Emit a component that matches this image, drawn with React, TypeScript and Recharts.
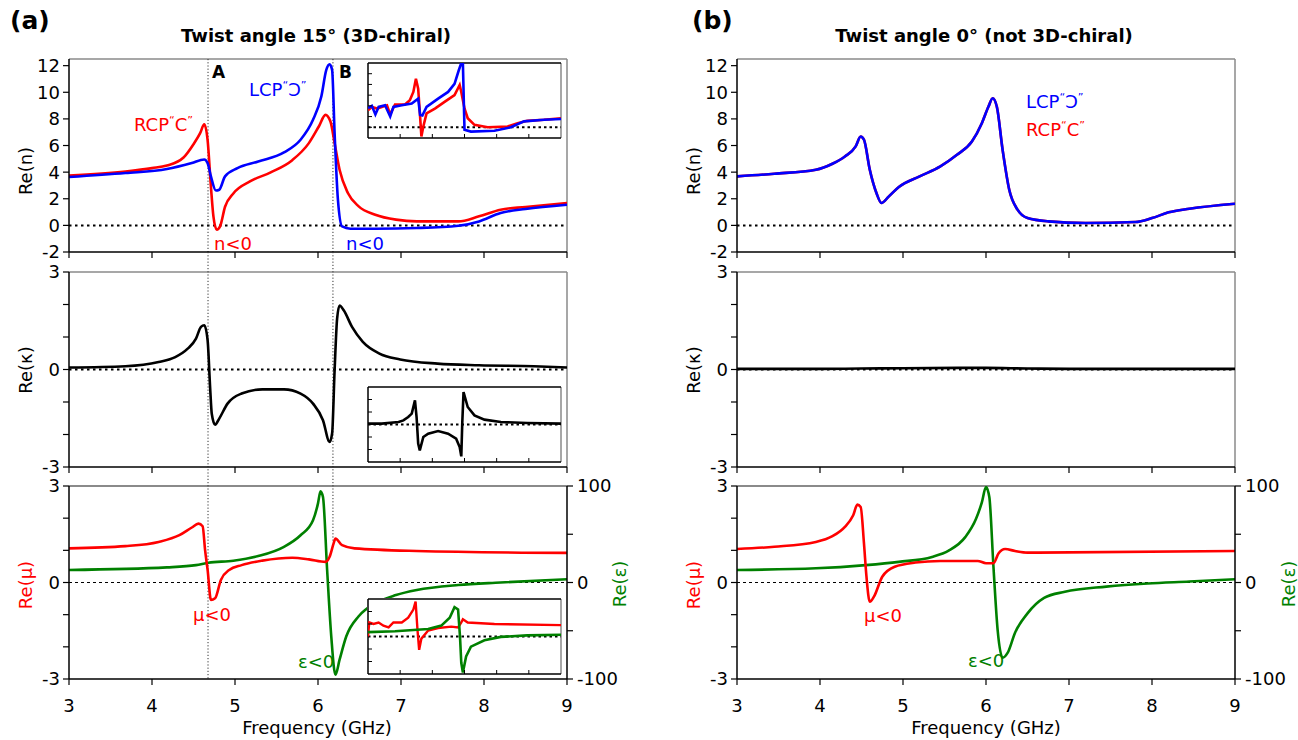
import React from 'react';
import { LineChart, Line, XAxis, YAxis, ReferenceLine } from 'recharts';

type P = [number, number];

// ---------- ticks ----------
const xTicks = [3, 4, 5, 6, 7, 8, 9];
const nTicks = [-2, 0, 2, 4, 6, 8, 10, 12];
const unitTicks = [-3, -2, -1, 0, 1, 2, 3];
const unitLabels = [-3, 0, 3];
const epsTicks = [-100, -50, 0, 50, 100];
const epsLabels = [-100, 0, 100];
const insetXTicks = [4, 5, 6, 7, 8];
const insetNTicks = [0, 2, 4, 6, 8, 10];
const insetUnitTicks = [-2, -1, 1, 2];

// resonance markers (GHz)
const lineA = 4.675;
const lineB = 6.18;

// ---------- (a) twist 15° : Re(n) ----------
const nRcpA: P[] = [
  [3, 3.75], [3.68, 4.05], [4.0, 4.3], [4.18, 4.5], [4.38, 5.1], [4.5, 6.1], [4.58, 6.93], [4.63, 7.6],
  [4.67, 6.4], [4.71, 2.9], [4.74, 0.68], [4.78, -0.33], [4.82, -0.08], [4.88, 1.4], [4.98, 2.4],
  [5.18, 3.3], [5.43, 3.98], [5.69, 4.9], [5.89, 6.18], [6.01, 7.43], [6.09, 8.3], [6.15, 7.8],
  [6.2, 6.18], [6.26, 4.18], [6.36, 2.43], [6.49, 1.43], [6.69, 0.8], [6.94, 0.43], [7.19, 0.3],
  [7.69, 0.3], [7.94, 0.68], [8.2, 1.18], [8.5, 1.38], [9, 1.68],
];
const nLcpA: P[] = [
  [3, 3.63], [3.68, 3.93], [4.18, 4.23], [4.48, 4.68], [4.63, 4.95], [4.67, 4.68], [4.71, 3.68],
  [4.77, 2.62], [4.81, 2.68], [4.88, 3.68], [5.03, 4.3], [5.28, 4.8], [5.59, 5.48], [5.79, 6.43],
  [5.94, 7.93], [6.04, 9.68], [6.1, 11.68], [6.14, 12.1], [6.17, 11.68], [6.2, 6.93], [6.24, 1.93],
  [6.29, -0.08], [6.39, -0.25], [6.69, -0.25], [7.19, -0.2], [7.69, -0.03], [7.94, 0.3], [8.2, 0.93],
  [8.5, 1.23], [9, 1.55],
];
// ---------- (b) twist 0° : Re(n) (LCP = RCP) ----------
const nB: P[] = [
  [3, 3.68], [3.45, 3.88], [3.95, 4.18], [4.15, 4.63], [4.3, 5.18], [4.43, 5.93], [4.49, 6.68],
  [4.53, 6.43], [4.6, 4.18], [4.68, 2.43], [4.74, 1.68], [4.83, 2.18], [4.95, 2.88], [5.2, 3.68],
  [5.45, 4.43], [5.65, 5.3], [5.83, 6.3], [5.95, 7.68], [6.03, 8.93], [6.08, 9.55], [6.13, 8.93],
  [6.2, 5.68], [6.28, 2.68], [6.38, 1.18], [6.5, 0.55], [6.75, 0.3], [7.2, 0.18], [7.8, 0.25],
  [8.0, 0.55], [8.2, 0.98], [8.45, 1.25], [9, 1.63],
];
// ---------- Re(kappa) ----------
const kA: P[] = [
  [3, 0.06], [3.68, 0.1], [4.08, 0.23], [4.28, 0.38], [4.43, 0.64], [4.53, 0.95], [4.59, 1.31],
  [4.63, 1.36], [4.67, 0.9], [4.7, -0.54], [4.72, -1.36], [4.76, -1.7], [4.81, -1.51], [4.91, -1.05],
  [5.08, -0.74], [5.33, -0.61], [5.59, -0.61], [5.79, -0.74], [5.94, -1.05], [6.06, -1.56],
  [6.14, -2.23], [6.17, -1.97], [6.2, -0.03], [6.23, 1.56], [6.26, 1.97], [6.31, 1.82], [6.41, 1.31],
  [6.54, 0.85], [6.74, 0.49], [6.99, 0.31], [7.44, 0.18], [7.94, 0.13], [8.6, 0.1], [9, 0.06],
];
const kB: P[] = [
  [3, 0.02], [4, 0.02], [4.5, 0.03], [5, 0.04], [6, 0.05], [6.5, 0.03], [7, 0.02], [9, 0.02],
];
// ---------- Re(mu) / Re(eps) ----------
const muA: P[] = [
  [3, 1.06], [3.68, 1.13], [4.08, 1.26], [4.33, 1.47], [4.48, 1.71], [4.56, 1.83], [4.61, 1.75],
  [4.64, 1.0], [4.67, 0.39], [4.71, -0.54], [4.76, -0.49], [4.83, 0.08], [4.93, 0.39], [5.08, 0.54],
  [5.33, 0.68], [5.69, 0.77], [5.89, 0.72], [6.09, 0.64], [6.14, 0.8], [6.19, 1.23], [6.21, 1.37],
  [6.29, 1.16], [6.44, 1.06], [7.19, 0.98], [9, 0.92],
];
const epsA: P[] = [
  [3, 13], [4.18, 15.7], [4.53, 18], [4.68, 20.4], [4.98, 22.6], [5.28, 27.4], [5.59, 37], [5.79, 49],
  [5.94, 64.5], [6.0, 82], [6.03, 94.5], [6.06, 88.6], [6.11, 13], [6.16, -56], [6.21, -95.6],
  [6.26, -80], [6.34, -56], [6.49, -35], [6.69, -21.6], [6.94, -13], [7.19, -7.8], [7.69, -2.6],
  [8.2, 0], [9, 3.4],
];
const muB: P[] = [
  [3, 1.04], [3.45, 1.11], [3.95, 1.26], [4.15, 1.44], [4.3, 1.73], [4.4, 2.09], [4.45, 2.42],
  [4.49, 2.35], [4.53, 1.21], [4.56, 0.18], [4.6, -0.6], [4.65, -0.44], [4.75, 0.18], [4.9, 0.49],
  [5.15, 0.62], [5.45, 0.67], [5.9, 0.67], [6.0, 0.6], [6.09, 0.6], [6.15, 0.9], [6.23, 1.04],
  [6.35, 0.98], [6.5, 0.93], [9, 0.98],
];
const epsB: P[] = [
  [3, 13], [3.95, 14.7], [4.55, 18], [4.95, 21.4], [5.35, 26.5], [5.55, 33], [5.75, 47], [5.88, 66],
  [5.95, 83], [6.0, 99], [6.04, 88.6], [6.09, 16], [6.14, -49], [6.2, -78], [6.26, -73], [6.35, -52],
  [6.5, -32], [6.7, -16], [6.95, -9.6], [7.45, -4.3], [7.95, -1], [8.45, 1], [9, 3.4],
];
// ---------- insets (measured) ----------
const insNRcp: P[] = [
  [3, 3.2], [3.12, 3.8], [3.28, 3.5], [3.43, 3.8], [3.59, 4.1], [3.69, 2.4], [3.84, 4.25], [4.15, 4.25],
  [4.3, 5.05], [4.41, 6.6], [4.49, 9.05], [4.56, 7.2], [4.61, 2.9], [4.66, -1.7], [4.72, 0.15],
  [4.82, 2.6], [5.08, 3.5], [5.38, 4.75], [5.69, 6.0], [5.85, 7.9], [5.9, 6.6], [6.0, 3.5], [6.1, 1.7],
  [6.31, 0.45], [6.72, 0], [7.34, 0.15], [7.65, 0.75], [7.95, 1.2], [8.47, 1.4], [9, 1.7],
];
const insNLcp: P[] = [
  [3, 3.6], [3.12, 4.0], [3.23, 2.4], [3.33, 3.8], [3.53, 4.1], [3.69, 2.0], [3.79, 3.8], [4.05, 4.1],
  [4.36, 4.45], [4.56, 5.35], [4.62, 2.3], [4.69, 2.2], [4.82, 3.8], [5.18, 5.35], [5.49, 6.6],
  [5.69, 8.1], [5.82, 10.6], [5.9, 12], [5.95, 12], [6.0, -0.45], [6.2, -0.8], [6.93, -0.65],
  [7.44, 0], [7.85, 1.1], [8.47, 1.4], [9, 1.55],
];
const insK: P[] = [
  [3, 0.07], [3.43, 0.07], [3.95, 0.2], [4.1, 0.33], [4.25, 0.6], [4.36, 0.87], [4.46, 1.93],
  [4.51, 0.6], [4.56, -1.53], [4.61, -2.07], [4.72, -1.0], [4.87, -0.73], [5.18, -0.52], [5.49, -0.73],
  [5.74, -1.13], [5.85, -1.8], [5.9, -2.55], [5.93, 0.07], [5.97, 2.6], [6.1, 1.4], [6.31, 0.73],
  [6.62, 0.39], [7.13, 0.2], [7.95, 0.12], [9, 0.07],
];
const insMu: P[] = [
  [3, 0], [3.04, 1.12], [3.17, 1.0], [3.33, 1.12], [3.48, 0.86], [3.64, 0.73], [3.79, 1.12], [4.05, 1.12],
  [4.25, 1.5], [4.41, 2.15], [4.48, 2.8], [4.54, 0.48], [4.59, -1.07], [4.66, -0.17], [4.87, 0.48],
  [5.18, 0.68], [5.59, 0.79], [5.8, 0.73], [5.9, 1.12], [5.95, 1.38], [6.1, 1.12], [6.93, 1.0], [9, 0.91],
];
const insEps: P[] = [
  [3, 11.6], [3.84, 14], [4.87, 20], [5.28, 29], [5.54, 50], [5.69, 78], [5.8, 72], [5.86, 0],
  [5.9, -70], [5.95, -96], [6.05, -53], [6.2, -27], [6.62, -10], [7.13, -1], [7.95, 3], [9, 4.7],
];

const pts = (a: P[]) => a.map(([f, v]) => ({ f, v }));

// ---------- styling / layout ----------
const FONT = '"DejaVu Sans", Verdana, sans-serif';
const RED = '#ff0000';
const BLUE = '#0000ff';
const GREEN = '#008000';
const FRAME = '#8a8a8a';
const FS = 18;
const PW = 498;
const COL_A = 69;
const COL_B = 737;
const ROW1 = { y: 59, h: 193 };
const ROW2 = { y: 272, h: 195 };
const ROW3 = { y: 486, h: 193 };
const LEFTW = 62;
const RIGHTW = 52;
const GAP = 20;

const tickStyle = { fontSize: FS, fill: '#000', fontFamily: FONT };
const axisLine = { stroke: '#000', strokeWidth: 1.5 };
const tickLine = { stroke: '#000', strokeWidth: 1.2 };

const abShape = (up: number) => (p: any) => {
  const top = Math.min(p.y1, p.y2) - up;
  const bot = Math.max(p.y1, p.y2);
  return <line x1={p.x1} x2={p.x2} y1={top} y2={bot} stroke="#333" strokeWidth={1} strokeDasharray="1.2 2" />;
};

const only = (list: number[]) => (v: number) => (list.includes(v) ? String(v) : '');

type S = { data: P[]; color: string };

function XAx({ labels, h }: { labels: boolean; h: number }) {
  return (
    <XAxis
      type="number"
      dataKey="f"
      domain={[3, 9]}
      ticks={xTicks}
      interval={0}
      allowDataOverflow
      height={h}
      tickSize={6}
      tickMargin={14}
      axisLine={axisLine}
      tickLine={tickLine}
      tick={tickStyle}
      tickFormatter={labels ? (v: number) => String(v) : () => ''}
    />
  );
}

function NPanel({ x0, series, ab }: { x0: number; series: S[]; ab: boolean }) {
  const top = 4;
  const xh = 10;
  return (
    <div style={{ position: 'absolute', left: x0 - LEFTW, top: ROW1.y - top }}>
      <LineChart width={LEFTW + PW + 10} height={top + ROW1.h + xh} margin={{ top, right: 10, bottom: 0, left: 0 }}>
        {XAx({ labels: false, h: xh })}
        <YAxis type="number" domain={[-2, 12.5]} ticks={nTicks} interval={0} width={LEFTW} allowDataOverflow tickSize={6} tickMargin={3}
          axisLine={axisLine} tickLine={tickLine} tick={tickStyle} />
        <ReferenceLine y={12.5} stroke={FRAME} strokeWidth={1.5} />
        <ReferenceLine x={9} stroke={FRAME} strokeWidth={1.5} />
        <ReferenceLine y={0} stroke="#000" strokeWidth={2} strokeDasharray="2.5 3.5" />
        {ab ? <ReferenceLine x={lineA} shape={abShape(0)} /> : null}
        {ab ? <ReferenceLine x={lineB} shape={abShape(0)} /> : null}
        {series.map((s, i) => (
          <Line key={i} data={pts(s.data)} dataKey="v" type="monotone" stroke={s.color} strokeWidth={2.6} dot={false} isAnimationActive={false} />
        ))}
      </LineChart>
    </div>
  );
}

function KPanel({ x0, data, ab }: { x0: number; data: P[]; ab: boolean }) {
  const top = GAP + 2;
  const xh = 10;
  return (
    <div style={{ position: 'absolute', left: x0 - LEFTW, top: ROW2.y - top }}>
      <LineChart width={LEFTW + PW + 10} height={top + ROW2.h + xh} margin={{ top, right: 10, bottom: 0, left: 0 }}>
        {XAx({ labels: false, h: xh })}
        <YAxis type="number" domain={[-3, 3]} ticks={unitTicks} interval={0} width={LEFTW} allowDataOverflow tickSize={6} tickMargin={3}
          axisLine={axisLine} tickLine={tickLine} tick={tickStyle} tickFormatter={only(unitLabels)} />
        <ReferenceLine y={3} stroke={FRAME} strokeWidth={1.5} />
        <ReferenceLine x={9} stroke={FRAME} strokeWidth={1.5} />
        <ReferenceLine y={0} stroke="#000" strokeWidth={2} strokeDasharray="2.5 3.5" />
        {ab ? <ReferenceLine x={lineA} shape={abShape(GAP)} /> : null}
        {ab ? <ReferenceLine x={lineB} shape={abShape(GAP)} /> : null}
        <Line data={pts(data)} dataKey="v" type="monotone" stroke="#000" strokeWidth={2.6} dot={false} isAnimationActive={false} />
      </LineChart>
    </div>
  );
}

function MPanel({ x0, mu, eps, ab }: { x0: number; mu: P[]; eps: P[]; ab: boolean }) {
  const top = GAP + 2;
  const xh = 40;
  return (
    <div style={{ position: 'absolute', left: x0 - LEFTW, top: ROW3.y - top }}>
      <LineChart width={LEFTW + PW + RIGHTW} height={top + ROW3.h + xh} margin={{ top, right: 0, bottom: 0, left: 0 }}>
        {XAx({ labels: true, h: xh })}
        <YAxis type="number" domain={[-3, 3]} ticks={unitTicks} interval={0} width={LEFTW} allowDataOverflow tickSize={6} tickMargin={3}
          axisLine={axisLine} tickLine={tickLine} tick={tickStyle} tickFormatter={only(unitLabels)} />
        <YAxis yAxisId="r" orientation="right" type="number" domain={[-100, 100]} ticks={epsTicks} interval={0} width={RIGHTW}
          allowDataOverflow tickSize={6} tickMargin={4} axisLine={axisLine} tickLine={tickLine} tick={tickStyle}
          tickFormatter={only(epsLabels)} />
        <ReferenceLine y={3} stroke={FRAME} strokeWidth={2} />
        <ReferenceLine y={0} stroke="#000" strokeWidth={1.2} strokeDasharray="3 3" />
        {ab ? <ReferenceLine x={lineA} shape={abShape(GAP)} /> : null}
        {ab ? <ReferenceLine segment={[{ x: lineB, y: 1.3 }, { x: lineB, y: 3 }]} shape={abShape(GAP)} /> : null}
        <Line data={pts(eps)} yAxisId="r" dataKey="v" type="monotone" stroke={GREEN} strokeWidth={2.6} dot={false} isAnimationActive={false} />
        <Line data={pts(mu)} dataKey="v" type="monotone" stroke={RED} strokeWidth={2.6} dot={false} isAnimationActive={false} />
      </LineChart>
    </div>
  );
}

const INS = { x: 367, w: 195 };

function Inset({ y, h, domain, yTicks, zero, children }: { y: number; h: number; domain: [number, number]; yTicks: number[]; zero: boolean; children: any }) {
  return (
    <div style={{ position: 'absolute', left: INS.x, top: y, width: INS.w, height: h, background: '#fff' }}>
      <LineChart width={INS.w} height={h} margin={{ top: 1, right: 1, bottom: 1, left: 1 }}>
        <XAxis type="number" dataKey="f" domain={[3, 9]} ticks={insetXTicks} interval={0} allowDataOverflow mirror axisLine={false}
          tickSize={4} tickLine={{ stroke: '#000', strokeWidth: 1 }} tickFormatter={() => ''} />
        <YAxis type="number" domain={domain} ticks={yTicks} interval={0} allowDataOverflow mirror axisLine={false}
          tickSize={4} tickLine={{ stroke: '#000', strokeWidth: 1 }} tickFormatter={() => ''} />
        <YAxis yAxisId="r" type="number" domain={[-100, 100]} hide />
        <ReferenceLine x={3} stroke="#000" strokeWidth={1.5} />
        <ReferenceLine x={9} stroke={FRAME} strokeWidth={1.5} />
        <ReferenceLine y={domain[0]} stroke="#000" strokeWidth={1.5} />
        <ReferenceLine y={domain[1]} stroke="#000" strokeWidth={1.5} />
        {zero ? <ReferenceLine y={0} stroke="#000" strokeWidth={2} strokeDasharray="2.5 3" /> : null}
        {children}
      </LineChart>
    </div>
  );
}

function Labels() {
  const t = (x: number, y: number, s: string, color = '#000', extra: any = {}) => (
    <text x={x} y={y} fill={color} fontSize={FS} fontFamily={FONT} {...extra}>{s}</text>
  );
  const rot = (x: number, y: number, s: string, color = '#000') => (
    <text transform={`translate(${x},${y}) rotate(-90)`} textAnchor="middle" dy="0.35em" fill={color} fontSize={FS} fontFamily={FONT}>{s}</text>
  );
  const pol = (x: number, y: number, name: string, sym: string, color: string) => (
    <text x={x} y={y} fill={color} fontSize={FS} fontFamily={FONT}>
      {name}
      <tspan fontSize={11} dy={-7}>{'\u201C'}</tspan>
      <tspan fontSize={FS} dy={7}>{sym}</tspan>
      <tspan fontSize={11} dy={-7}>{'\u201D'}</tspan>
    </text>
  );
  return (
    <svg width={1298} height={740} style={{ position: 'absolute', left: 0, top: 0, pointerEvents: 'none' }}>
      {t(10, 29, '(a)', '#000', { fontSize: 25, fontWeight: 'bold' })}
      {t(692, 29, '(b)', '#000', { fontSize: 25, fontWeight: 'bold' })}
      {t(316, 42, 'Twist angle 15° (3D-chiral)', '#000', { fontSize: 18, fontWeight: 'bold', textAnchor: 'middle' })}
      {t(984, 42, 'Twist angle 0° (not 3D-chiral)', '#000', { fontSize: 18, fontWeight: 'bold', textAnchor: 'middle' })}
      {t(212, 78, 'A', '#000', { fontSize: 17, fontWeight: 'bold' })}
      {t(339, 78, 'B', '#000', { fontSize: 17, fontWeight: 'bold' })}
      {pol(134, 131, 'RCP', 'C', RED)}
      {pol(249, 96, 'LCP', '\u0186', BLUE)}
      {t(214, 250, 'n<0', RED)}
      {t(346, 250, 'n<0', BLUE)}
      {pol(1026, 108, 'LCP', '\u0186', BLUE)}
      {pol(1026, 136, 'RCP', 'C', RED)}
      {t(193, 621, 'μ<0', RED)}
      {t(298, 668, 'ε<0', GREEN)}
      {t(864, 622, 'μ<0', RED)}
      {t(968, 667, 'ε<0', GREEN)}
      {rot(26, 171, 'Re(n)')}
      {rot(26, 370, 'Re(κ)')}
      {rot(26, 585, 'Re(μ)', RED)}
      {rot(620, 584, 'Re(ε)', GREEN)}
      {rot(694, 171, 'Re(n)')}
      {rot(694, 370, 'Re(κ)')}
      {rot(694, 585, 'Re(μ)', RED)}
      {rot(1289, 584, 'Re(ε)', GREEN)}
      {t(317, 734, 'Frequency (GHz)', '#000', { textAnchor: 'middle' })}
      {t(986, 734, 'Frequency (GHz)', '#000', { textAnchor: 'middle' })}
    </svg>
  );
}

export default function App() {
  return (
    <div style={{ position: 'absolute', left: 0, top: 0, width: 1298, height: 740, background: '#fff', fontFamily: FONT, overflow: 'hidden' }}>
      <NPanel x0={COL_A} ab series={[{ data: nRcpA, color: RED }, { data: nLcpA, color: BLUE }]} />
      <NPanel x0={COL_B} ab={false} series={[{ data: nB, color: RED }, { data: nB, color: BLUE }]} />
      <KPanel x0={COL_A} ab data={kA} />
      <KPanel x0={COL_B} ab={false} data={kB} />
      <MPanel x0={COL_A} ab mu={muA} eps={epsA} />
      <MPanel x0={COL_B} ab={false} mu={muB} eps={epsB} />

      <Inset y={62} h={77} domain={[-2, 12]} yTicks={insetNTicks} zero>
        <Line data={pts(insNRcp)} dataKey="v" type="linear" stroke={RED} strokeWidth={2.6} dot={false} isAnimationActive={false} />
        <Line data={pts(insNLcp)} dataKey="v" type="linear" stroke={BLUE} strokeWidth={2.6} dot={false} isAnimationActive={false} />
      </Inset>
      <Inset y={386} h={77} domain={[-3, 3]} yTicks={insetUnitTicks} zero>
        <Line data={pts(insK)} dataKey="v" type="linear" stroke="#000" strokeWidth={2.6} dot={false} isAnimationActive={false} />
      </Inset>
      <Inset y={598} h={77} domain={[-3, 3]} yTicks={insetUnitTicks} zero>
        <Line data={pts(insMu)} dataKey="v" type="linear" stroke={RED} strokeWidth={2.4} dot={false} isAnimationActive={false} />
        <Line data={pts(insEps)} yAxisId="r" dataKey="v" type="linear" stroke={GREEN} strokeWidth={2.6} dot={false} isAnimationActive={false} />
      </Inset>

      <Labels />
    </div>
  );
}
